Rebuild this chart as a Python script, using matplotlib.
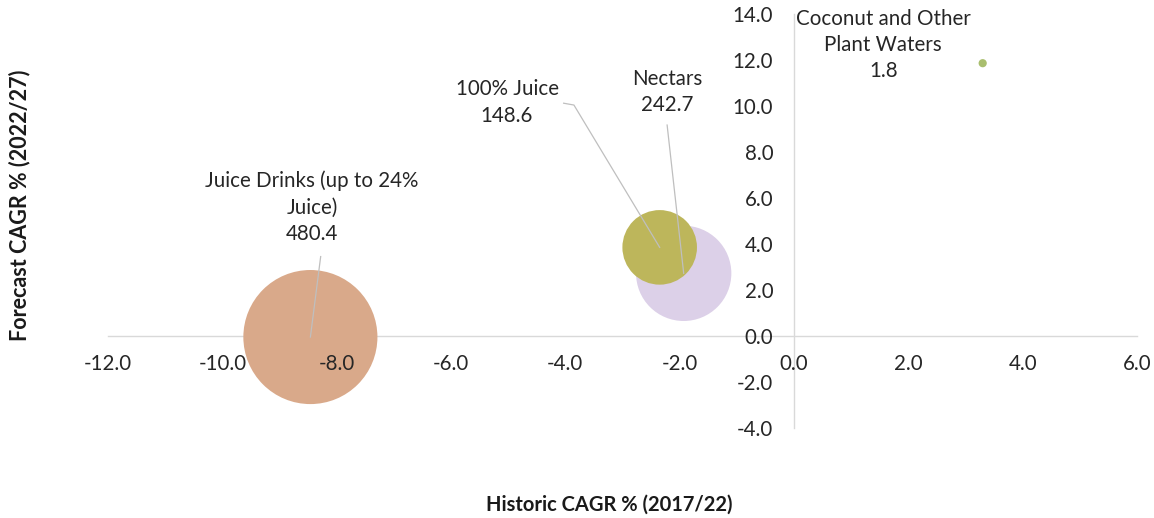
import matplotlib.pyplot as plt

plt.rcParams['font.family'] = ['Lato', 'DejaVu Sans']

categories = ['Juice Drinks (up to 24%\nJuice)', '100% Juice', 'Nectars',
              'Coconut and Other\nPlant Waters']
historic_cagr = [-8.46, -2.35, -1.93, 3.30]
forecast_cagr = [-0.05, 3.85, 2.72, 11.86]
market_size = [480.4, 148.6, 242.7, 1.8]
colors = ['#D9A98A', '#BDB65B', '#DCD0E8', '#A9BE6E']

# label placement (data coords) and leader start points
label_pos = [(-8.43, 5.6), (-5.02, 10.15), (-2.22, 10.6), (1.56, 12.65)]
leader_start = [[(-8.28, 3.45)], [(-4.03, 10.12), (-3.85, 10.04)],
                [(-2.22, 9.17)], None]
draw_order = [0, 2, 1, 3]

fig = plt.figure(figsize=(11.54, 5.18), dpi=100)
ax = fig.add_axes([0.0936, 0.174, 0.8917, 0.799])

for i in draw_order:
    ax.scatter(historic_cagr[i], forecast_cagr[i], s=market_size[i] * 19.4,
               color=colors[i], edgecolor='none', zorder=2 + draw_order.index(i))

for i in range(len(categories)):
    if leader_start[i]:
        pts = leader_start[i] + [(historic_cagr[i], forecast_cagr[i])]
        ax.plot([p[0] for p in pts], [p[1] for p in pts], color='#BFBFBF',
                lw=0.9, zorder=10)
    ax.text(label_pos[i][0], label_pos[i][1], f'{categories[i]}\n{market_size[i]}',
            ha='center', va='center', fontsize=14.8, color='#262626',
            linespacing=1.38, zorder=11)

ax.set_xlim(-12, 6)
ax.set_ylim(-4, 14)
ax.set_xticks(range(-12, 7, 2))
ax.set_yticks(range(-4, 15, 2))
ax.set_xticklabels([f'{v:.1f}' for v in range(-12, 7, 2)])
ax.set_yticklabels([f'{v:.1f}' for v in range(-4, 15, 2)])

ax.spines['left'].set_position(('data', 0))
ax.spines['bottom'].set_position(('data', 0))
ax.spines['right'].set_visible(False)
ax.spines['top'].set_visible(False)
for s in ['left', 'bottom']:
    ax.spines[s].set_color('#D9D9D9')
    ax.spines[s].set_linewidth(1)
    ax.spines[s].set_zorder(1)
ax.xaxis.set_zorder(15)
ax.yaxis.set_zorder(15)

ax.tick_params(axis='x', length=0, pad=13, labelsize=14.8, labelcolor='#262626')
ax.tick_params(axis='y', length=0, pad=15, labelsize=14.8, labelcolor='#262626')

fig.text(0.528, 0.025, 'Historic CAGR % (2017/22)', ha='center', va='center',
         fontsize=14.5, fontweight='bold', color='#1a1a1a')
fig.text(0.017, 0.604, 'Forecast CAGR % (2022/27)', ha='center', va='center',
         rotation=90, fontsize=15.5, fontweight='bold', color='#1a1a1a')

fig.savefig('out.png', dpi=100)
